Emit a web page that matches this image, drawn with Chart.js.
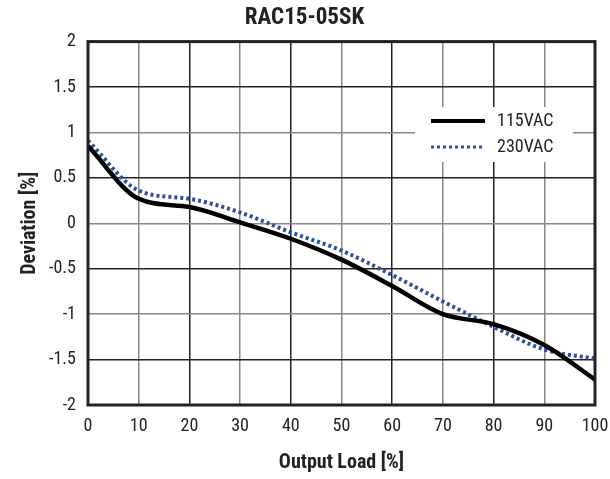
<!DOCTYPE html>
<html>
<head>
<meta charset="utf-8">
<script src="https://cdn.jsdelivr.net/npm/chart.js@4/dist/chart.umd.min.js"></script>
<style>
  html, body { margin: 0; padding: 0; background: #fff; }
  #wrap { width: 610px; height: 479px; }
</style>
</head>
<body>
<div id="wrap"><canvas id="myChart" width="610" height="479"></canvas></div>
<script>
// RAC15-05SK load regulation
const loads = [0, 10, 20, 30, 40, 50, 60, 70, 80, 90, 100];
const dev115 = [0.85, 0.27, 0.18, 0.01, -0.17, -0.40, -0.69, -1.00, -1.11, -1.34, -1.72];
const dev230 = [0.91, 0.36, 0.27, 0.12, -0.10, -0.30, -0.57, -0.86, -1.14, -1.39, -1.49];
const seriesNames = ['115VAC', '230VAC'];

const fontFam = "'Liberation Sans Narrow', 'Roboto Condensed', 'Liberation Sans', sans-serif";

// draws the dark frame round the plot and the boxed legend inside it
const framePlugin = {
  id: 'frame',
  afterDraw(chart) {
    const { ctx, chartArea: a } = chart;
    ctx.save();
    ctx.strokeStyle = '#222';
    ctx.lineWidth = 3;
    ctx.strokeRect(a.left, a.top, a.right - a.left, a.bottom - a.top);

    // legend
    const bx = 415, by = 107, bw = 158, bh = 55;
    ctx.fillStyle = '#fff';
    ctx.fillRect(bx, by, bw, bh);
    ctx.font = '18px ' + fontFam;
    ctx.textBaseline = 'middle';
    chart.data.datasets.forEach((ds, i) => {
      const y = by + 14 + i * 26;
      ctx.beginPath();
      ctx.strokeStyle = ds.borderColor;
      ctx.lineWidth = i === 0 ? 4 : 3;
      ctx.setLineDash(ds.borderDash || []);
      ctx.moveTo(431, y);
      ctx.lineTo(485, y);
      ctx.stroke();
      ctx.setLineDash([]);
      ctx.fillStyle = '#222';
      ctx.fillText(ds.label, 497, y);
    });
    ctx.restore();
  }
};

const ctx = document.getElementById('myChart');
const myChart = new Chart(ctx, {
  type: 'line',
  data: {
    labels: loads,
    datasets: [{
      label: seriesNames[0],
      data: dev115,
      borderColor: '#000',
      borderWidth: 4.5,
      cubicInterpolationMode: 'monotone',
      pointRadius: 0,
      fill: false
    }, {
      label: seriesNames[1],
      data: dev230,
      borderColor: '#2b50a3',
      borderWidth: 4,
      borderDash: [3, 3],
      cubicInterpolationMode: 'monotone',
      pointRadius: 0,
      fill: false
    }]
  },
  options: {
    responsive: false,
    animation: false,
    layout: { padding: { left: 14, right: 15, top: 0, bottom: 0 } },
    plugins: {
      legend: { display: false },
      tooltip: { enabled: false },
      title: {
        display: true,
        text: 'RAC15-05SK',
        color: '#222',
        font: { family: fontFam, size: 23, weight: 'bold' },
        padding: { top: 4, bottom: 10 }
      }
    },
    scales: {
      x: {
        type: 'linear',
        min: 0,
        max: 100,
        afterFit: s => { s.height = 74; s.paddingLeft = 0; s.paddingRight = 0; },
        ticks: {
          stepSize: 10,
          color: '#222',
          padding: 11,
          font: { family: fontFam, size: 18 }
        },
        grid: {
          drawTicks: false,
          lineWidth: 1.5,
          color: c => (c.tick && c.tick.value % 20 === 0) ? '#222' : '#888'
        },
        border: { display: false },
        title: {
          display: true,
          text: 'Output Load [%]',
          color: '#222',
          font: { family: fontFam, size: 20, weight: 'bold' },
          padding: { top: 12 }
        }
      },
      y: {
        min: -2,
        max: 2,
        afterFit: s => { s.width = 74; },
        ticks: {
          stepSize: 0.5,
          color: '#222',
          padding: 12,
          font: { family: fontFam, size: 18 },
          callback: v => String(v)
        },
        grid: {
          drawTicks: false,
          lineWidth: 1.5,
          color: c => (c.tick && Number.isInteger(c.tick.value)) ? '#888' : '#222'
        },
        border: { display: false },
        title: {
          display: true,
          text: 'Deviation [%]',
          color: '#222',
          font: { family: fontFam, size: 20, weight: 'bold' },
          padding: { bottom: 4 }
        }
      }
    }
  },
  plugins: [framePlugin]
});
console.log(myChart.chartArea);
</script>
</body>
</html>
